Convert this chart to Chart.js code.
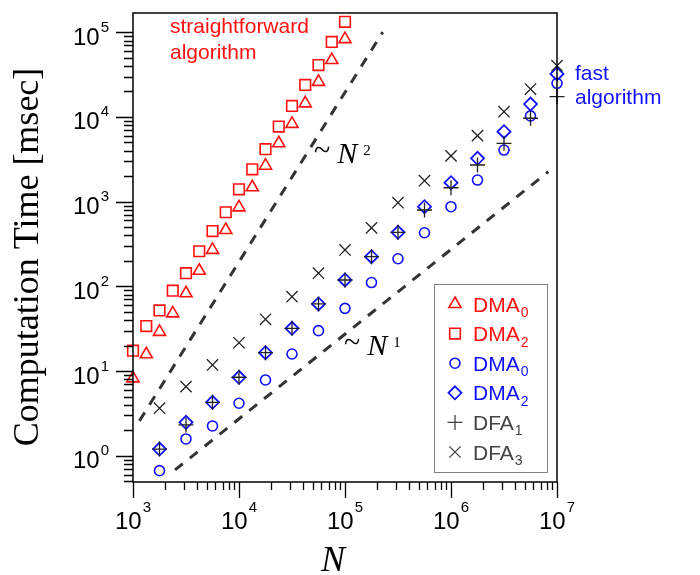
<!DOCTYPE html>
<html>
<head>
<meta charset="utf-8">
<script src="https://cdn.jsdelivr.net/npm/chart.js@4.4.0/dist/chart.umd.min.js"></script>
<style>
html, body { margin: 0; padding: 0; background: #fff; }
</style>
</head>
<body>
<canvas id="chart" width="700" height="575"></canvas>
<script>
// N values of the straightforward runs and of the fast runs
var nStraight = [1000, 1334, 1778, 2371, 3162, 4217, 5623, 7499, 10000, 13335, 17783, 23714, 31623, 42170, 56234, 74989, 100000];
var dma0Straight = [8.2, 15.8, 29, 48, 83, 153, 270, 463, 857, 1480, 2660, 4900, 8300, 14500, 26000, 47000, 83000];
var dma2Straight = [17.4, 34, 52, 89, 143, 260, 450, 750, 1400, 2410, 4170, 7700, 13500, 23900, 41000, 77000, 133000];

var nFast = [1778, 3162, 5623, 10000, 17783, 31623, 56234, 100000, 177828, 316228, 562341, 1000000, 1778279, 3162278, 5623413, 10000000];
var dma0Fast = [0.667, 1.58, 2.25, 4.17, 7.85, 15.9, 30, 55, 111, 212, 430, 873, 1800, 4070, 10300, 25000];
var dma2Fast = [1.2, 2.48, 4.28, 8.45, 16.5, 32, 62, 119, 224, 435, 873, 1675, 3250, 6710, 14200, 32200];
var dfa1 = [1.2, 2.31, 4.28, 8.45, 16.5, 32, 62, 119, 224, 435, 798, 1460, 2710, 4890, 9660, 17400];
var dfa3 = [3.64, 6.55, 11.8, 21.6, 40.9, 75.5, 143, 269, 490, 973, 1770, 3470, 6020, 11550, 21400, 40300];

// guide lines ~N^2 and ~N^1
var guideN2x = [1150, 227000];
var guideN2y = [2.58, 100500];
var guideN1x = [2490, 8280000];
var guideN1y = [0.68, 2260];

var xTickExps = ['3', '4', '5', '6', '7'];
var yTickExps = ['0', '1', '2', '3', '4', '5'];

var RED = '#ff1010';
var BLUE = '#1010ff';
var DARK = '#222';

function pts(xs, ys) {
	var out = [];
	for (var i = 0; i < xs.length; i++) out.push({x: xs[i], y: ys[i]});
	return out;
}

var SANS = '"Liberation Sans", Arial, sans-serif';
var SERIF = '"Liberation Serif", "Times New Roman", serif';

var legendItems = [
	{style: 'triangle', r: 7, color: RED, text: 'DMA', sub: '0', lw: 1.6},
	{style: 'rect', r: 7.5, color: RED, text: 'DMA', sub: '2', lw: 1.6},
	{style: 'circle', r: 5, color: BLUE, text: 'DMA', sub: '0', lw: 1.6},
	{style: 'rectRot', r: 6.5, color: BLUE, text: 'DMA', sub: '2', lw: 1.8},
	{style: 'cross', r: 7.5, color: '#444', text: 'DFA', sub: '1', lw: 1.3},
	{style: 'crossRot', r: 8, color: '#444', text: 'DFA', sub: '3', lw: 1.3}
];

function drawSym(ctx, it, x, y) {
	ctx.save();
	ctx.strokeStyle = it.color;
	ctx.lineWidth = it.lw;
	ctx.beginPath();
	var r = it.r;
	if (it.style == 'triangle') {
		ctx.moveTo(x, y - r);
		ctx.lineTo(x + r * 0.866, y + r / 2);
		ctx.lineTo(x - r * 0.866, y + r / 2);
		ctx.closePath();
	} else if (it.style == 'rect') {
		var s = r * Math.SQRT1_2;
		ctx.rect(x - s, y - s, 2 * s, 2 * s);
	} else if (it.style == 'circle') {
		ctx.arc(x, y, r, 0, Math.PI * 2);
	} else if (it.style == 'rectRot') {
		ctx.moveTo(x, y - r); ctx.lineTo(x + r, y); ctx.lineTo(x, y + r); ctx.lineTo(x - r, y); ctx.closePath();
	} else if (it.style == 'cross') {
		ctx.moveTo(x - r, y); ctx.lineTo(x + r, y); ctx.moveTo(x, y - r); ctx.lineTo(x, y + r);
	} else {
		var o = r * Math.SQRT1_2;
		ctx.moveTo(x - o, y - o); ctx.lineTo(x + o, y + o); ctx.moveTo(x - o, y + o); ctx.lineTo(x + o, y - o);
	}
	ctx.stroke();
	ctx.restore();
}

var decor = {
	id: 'decor',
	afterDraw: function(chart) {
		var ctx = chart.ctx, a = chart.chartArea;
		var xs = chart.scales.x, ys = chart.scales.y;
		ctx.save();

		// frame
		ctx.strokeStyle = '#000';
		ctx.lineWidth = 1.5;
		ctx.strokeRect(a.left, a.top, a.right - a.left, a.bottom - a.top);

		// ticks
		ctx.lineWidth = 1.3;
		ctx.beginPath();
		for (var e = 3; e <= 7; e++) {
			for (var m = 1; m <= 9; m++) {
				var v = m * Math.pow(10, e);
				if (v > xs.max * 1.0001) break;
				var px = Math.round(xs.getPixelForValue(v)) + 0.5;
				ctx.moveTo(px, a.bottom);
				ctx.lineTo(px, a.bottom + (m == 1 ? 16 : 8));
			}
		}
		for (var e2 = -1; e2 <= 5; e2++) {
			for (var m2 = 1; m2 <= 9; m2++) {
				var v2 = m2 * Math.pow(10, e2);
				if (v2 < ys.min || v2 > ys.max) continue;
				var py = Math.round(ys.getPixelForValue(v2)) + 0.5;
				ctx.moveTo(a.left, py);
				ctx.lineTo(a.left - (m2 == 1 ? 17 : 9), py);
			}
		}
		ctx.stroke();

		// tick labels
		ctx.fillStyle = '#000';
		ctx.textBaseline = 'alphabetic';
		ctx.textAlign = 'left';
		xTickExps.forEach(function(ex) {
			var px = xs.getPixelForValue(Math.pow(10, +ex));
			ctx.font = '24px ' + SANS;
			var w10 = ctx.measureText('10').width;
			ctx.font = '15px ' + SANS;
			var ws = ctx.measureText(ex).width;
			var x0 = px - (w10 + 1 + ws) / 2;
			ctx.font = '24px ' + SANS;
			ctx.fillText('10', x0, 529);
			ctx.font = '15px ' + SANS;
			ctx.fillText(ex, x0 + w10 + 1, 512);
		});
		yTickExps.forEach(function(ex) {
			var py = ys.getPixelForValue(Math.pow(10, +ex));
			ctx.font = '24px ' + SANS;
			var w10 = ctx.measureText('10').width;
			ctx.font = '15px ' + SANS;
			var ws = ctx.measureText(ex).width;
			var x0 = 109 - (w10 + 1 + ws);
			ctx.font = '24px ' + SANS;
			ctx.fillText('10', x0, py + 12.5);
			ctx.font = '15px ' + SANS;
			ctx.fillText(ex, x0 + w10 + 1, py - 0.5);
		});

		// axis titles
		ctx.save();
		ctx.translate(38, 257);
		ctx.rotate(-Math.PI / 2);
		ctx.textAlign = 'center';
		ctx.font = '36px ' + SERIF;
		ctx.fillText('Computation Time [msec]', 0, 0);
		ctx.restore();

		ctx.font = 'italic 36px ' + SERIF;
		ctx.fillText('N', 321, 571);

		// power law labels
		function powerLabel(x, base, exp) {
			ctx.font = '30px ' + SERIF;
			ctx.fillText('~', x, base - 3);
			var w = ctx.measureText('~').width;
			ctx.font = 'italic 30px ' + SERIF;
			ctx.fillText('N', x + w + 7, base);
			var wn = ctx.measureText('N').width;
			ctx.font = '15px ' + SERIF;
			ctx.fillText(exp, x + w + 7 + wn + 6, base - 8);
		}
		powerLabel(314, 163, '2');
		powerLabel(344, 355, '1');

		// group labels
		ctx.font = '21px ' + SANS;
		ctx.fillStyle = RED;
		ctx.fillText('straightforward', 170, 33);
		ctx.fillText('algorithm', 170, 59);
		ctx.fillStyle = BLUE;
		ctx.fillText('fast', 575, 80);
		ctx.fillText('algorithm', 575, 104);

		// legend
		ctx.fillStyle = '#fff';
		ctx.fillRect(434, 284, 114, 189);
		ctx.strokeStyle = '#808080';
		ctx.lineWidth = 1;
		ctx.strokeRect(434.5, 284.5, 113, 188);
		legendItems.forEach(function(it, i) {
			var cy = 304 + i * 29.6;
			drawSym(ctx, it, 455, cy);
			ctx.fillStyle = it.color;
			ctx.font = '21px ' + SANS;
			ctx.fillText(it.text, 473, cy + 7.5);
			var w = ctx.measureText(it.text).width;
			ctx.font = '14px ' + SANS;
			ctx.fillText(it.sub, 473 + w + 1, cy + 13);
		});

		ctx.restore();
	}
};

function markerSet(label, data, style, r, color, lw) {
	return {
		label: label,
		data: data,
		pointStyle: style,
		pointRadius: r,
		pointHoverRadius: r,
		borderColor: color,
		backgroundColor: 'rgba(0,0,0,0)',
		pointBorderWidth: lw,
		showLine: false,
		clip: false
	};
}

function guideSet(label, data) {
	return {
		type: 'line',
		label: label,
		data: data,
		borderColor: '#333',
		borderWidth: 3,
		borderDash: [10, 9],
		pointRadius: 0,
		fill: false,
		clip: false
	};
}

var ctx = document.getElementById('chart');
var chart = new Chart(ctx, {
	type: 'scatter',
	data: {
		datasets: [
			markerSet('DFA3', pts(nFast, dfa3), 'crossRot', 8, DARK, 1.3),
			markerSet('DFA1', pts(nFast, dfa1), 'cross', 7.5, DARK, 1.3),
			markerSet('DMA2 fast', pts(nFast, dma2Fast), 'rectRot', 6.5, BLUE, 1.8),
			markerSet('DMA0 fast', pts(nFast, dma0Fast), 'circle', 5, BLUE, 1.6),
			markerSet('DMA2 straightforward', pts(nStraight, dma2Straight), 'rect', 7.5, RED, 1.6),
			markerSet('DMA0 straightforward', pts(nStraight, dma0Straight), 'triangle', 7, RED, 1.6),
			guideSet('~N^2', pts(guideN2x, guideN2y)),
			guideSet('~N^1', pts(guideN1x, guideN1y))
		]
	},
	options: {
		responsive: false,
		animation: false,
		layout: { padding: { left: 133, top: 13, right: 143, bottom: 93 } },
		plugins: {
			legend: { display: false },
			tooltip: { enabled: false }
		},
		scales: {
			x: { type: 'logarithmic', min: 1000, max: 10000000, display: false },
			y: { type: 'logarithmic', min: 0.49, max: 169000, display: false }
		}
	},
	plugins: [decor]
});
</script>
</body>
</html>
